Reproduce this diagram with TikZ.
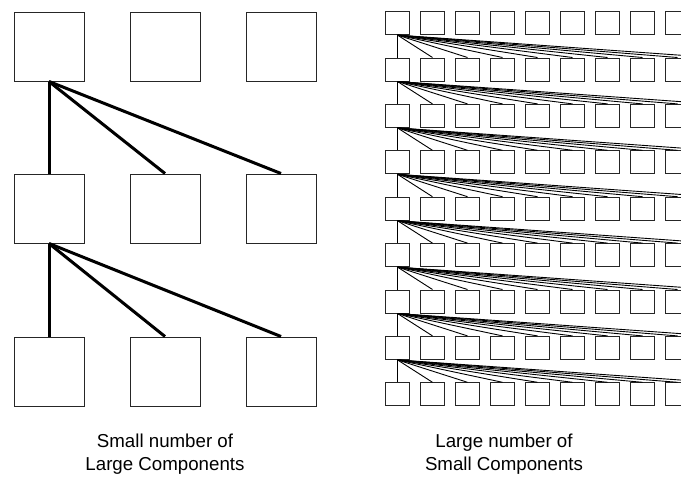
\documentclass[tikz,border=0pt]{standalone}
\usepackage{fontspec}
\setmainfont{Liberation Sans}
\begin{document}
\begin{tikzpicture}[x=1pt,y=-1pt,
  bigbox/.style={draw=black!85,line width=1pt,minimum width=70pt,minimum height=69pt,inner sep=0pt,fill=white},
  smallbox/.style={draw=black!85,line width=1pt,minimum width=23.5pt,minimum height=23pt,inner sep=0pt,fill=white},
  bigline/.style={line width=3pt,black},
  smallline/.style={line width=0.9pt,black},
  caption/.style={align=center,font=\fontsize{18.7}{23}\selectfont,inner sep=0pt}]
\useasboundingbox (0,0) rectangle (681,477);
\clip (0,0) rectangle (681,477);
% left grid
\foreach \r/\y in {0/46.5,1/208.5,2/371.5}{
  \foreach \c/\x in {0/49,1/165,2/281}{
    \node[bigbox] (L-\r-\c) at (\x,\y) {};
  }
}
\foreach \r/\n in {0/1,1/2}{
  \foreach \c in {0,1,2}{
    \draw[bigline] (L-\r-0.south) -- (L-\n-\c.north);
  }
}
% right grid
\foreach \r in {0,...,8}{
  \foreach \c in {0,...,9}{
    \node[smallbox] (R-\r-\c) at ({397.5+35*\c},{23.1+46.4*\r}) {};
  }
}
\foreach \r in {0,...,7}{
  \pgfmathtruncatemacro{\n}{\r+1}
  \foreach \c in {0,...,9}{
    \draw[smallline] (R-\r-0.south) -- (R-\n-\c.north);
  }
}
% captions
\node[caption] (capL) at (165,454) {Small number of\\Large Components};
\node[caption] (capR) at (504,454) {Large number of\\Small Components};
\end{tikzpicture}
\end{document}
